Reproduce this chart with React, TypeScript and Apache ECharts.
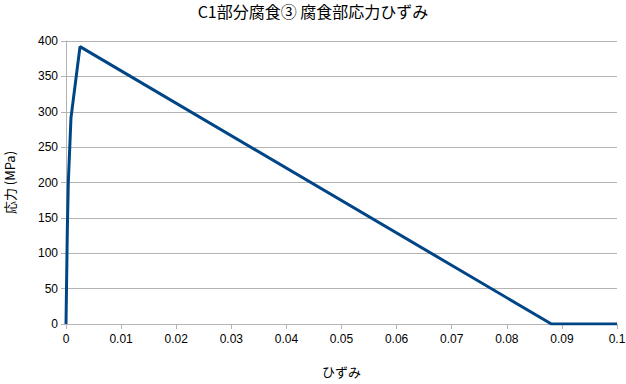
import React, { useEffect, useRef } from "react";
import * as echarts from "echarts";

const strain = [0, 0.00024, 0.00042, 0.0009, 0.00254, 0.0881, 0.1];
const stress = [0, 133, 200, 291, 392, 0, 0];
const title = "C1部分腐食③ 腐食部応力ひずみ";
const xName = "ひずみ";
const yName = "応力 (MPa)";

export default function App() {
  const ref = useRef<HTMLDivElement>(null);
  useEffect(() => {
    if (!ref.current) return;
    const chart = echarts.init(ref.current, null, { renderer: "svg" });
    const font = "'Liberation Sans', 'Noto Sans CJK JP', sans-serif";
    const grid = { lineStyle: { color: "#b3b3b3", width: 1 } };
    chart.setOption({
      animation: false,
      backgroundColor: "#ffffff",
      textStyle: { fontFamily: font },
      title: {
        text: title,
        left: "center",
        top: 1,
        padding: 0,
        textStyle: { fontFamily: "'Noto Sans CJK JP', sans-serif", fontSize: 16, lineHeight: 20, fontWeight: "normal", color: "#000" },
      },
      grid: { left: 66, right: 9, top: 41, bottom: 60, outerBoundsMode: "none", containLabel: false },
      xAxis: {
        type: "value",
        min: 0,
        max: 0.1,
        interval: 0.01,
        name: xName,
        nameLocation: "middle",
        nameGap: 41,
        nameTextStyle: { fontFamily: "'Noto Sans CJK JP', sans-serif", fontSize: 13, color: "#000" },
        axisLine: { show: true, lineStyle: { color: "#b3b3b3" } },
        axisTick: { show: true, length: 5, lineStyle: { color: "#b3b3b3" } },
        axisLabel: { color: "#000", fontSize: 12, margin: 9, formatter: (v: number) => String(+v.toFixed(2)) },
        splitLine: { show: false },
      },
      yAxis: {
        type: "value",
        min: 0,
        max: 400,
        interval: 50,
        name: yName,
        nameLocation: "middle",
        nameGap: 50,
        nameTextStyle: { fontFamily: "'Noto Sans CJK JP', sans-serif", fontSize: 13, color: "#000" },
        axisLine: { show: true, lineStyle: { color: "#b3b3b3" } },
        axisTick: { show: true, length: 5, lineStyle: { color: "#b3b3b3" } },
        axisLabel: { color: "#000", fontSize: 12, margin: 8 },
        splitLine: { show: true, ...grid },
      },
      series: [
        {
          type: "line",
          data: strain.map((x, i) => [x, stress[i]]),
          showSymbol: false,
          lineStyle: { color: "#004586", width: 3 },
          itemStyle: { color: "#004586" },
        },
      ],
    });
    return () => chart.dispose();
  }, []);
  return <div ref={ref} style={{ width: 626, height: 384, position: "absolute", left: 0, top: 0 }} />;
}
